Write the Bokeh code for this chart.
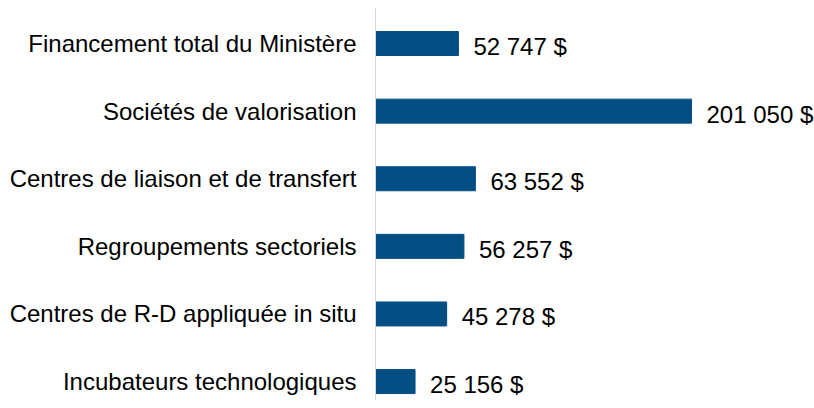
from bokeh.plotting import figure
from bokeh.models import ColumnDataSource, Range1d, FixedTicker, LabelSet
from bokeh.core.properties import value
from bokeh.embed import file_html
from bokeh.resources import INLINE

categories = [
    "Financement total du Ministère",
    "Sociétés de valorisation",
    "Centres de liaison et de transfert",
    "Regroupements sectoriels",
    "Centres de R-D appliquée in situ",
    "Incubateurs technologiques",
]
values = [52747, 201050, 63552, 56257, 45278, 25156]
value_labels = ["52 747 $", "201 050 $", "63 552 $", "56 257 $", "45 278 $", "25 156 $"]

pos = list(range(len(categories)))
src = ColumnDataSource(dict(y=pos, v=values, lab=value_labels, cat=categories))

FONT = "Liberation Sans"
p = figure(width=814, height=400, output_backend="svg", toolbar_location=None,
           x_range=Range1d(0, 279300), y_range=Range1d(5.28, -0.518),
           min_border_left=375, min_border_right=0, min_border_top=8, min_border_bottom=0)
p.outline_line_color = None
p.grid.visible = False
p.xaxis.visible = False
p.background_fill_color = "white"
p.border_fill_color = "white"

p.hbar(y="y", left=0, right="v", height=0.355, source=src,
       fill_color="#034F84", line_color="#034F84")

yax = p.yaxis[0]
yax.ticker = FixedTicker(ticks=pos)
yax.major_label_overrides = {i: c for i, c in enumerate(categories)}
yax.major_tick_line_color = None
yax.minor_tick_line_color = None
yax.major_tick_out = 0
yax.major_tick_in = 0
yax.axis_line_color = "#d9d9d9"
yax.axis_line_width = 1
yax.major_label_standoff = 19
yax.major_label_text_font = FONT
yax.major_label_text_font_size = "24px"
yax.major_label_text_color = "#000000"

labels = LabelSet(x="v", y="y", text="lab", source=src, x_offset=15, y_offset=-3,
                  text_baseline="middle", text_align="left",
                  text_font=value(FONT), text_font_size=value("24px"),
                  text_color="#000000")
p.add_layout(labels)

open("out.html", "w").write(file_html(p, INLINE))
